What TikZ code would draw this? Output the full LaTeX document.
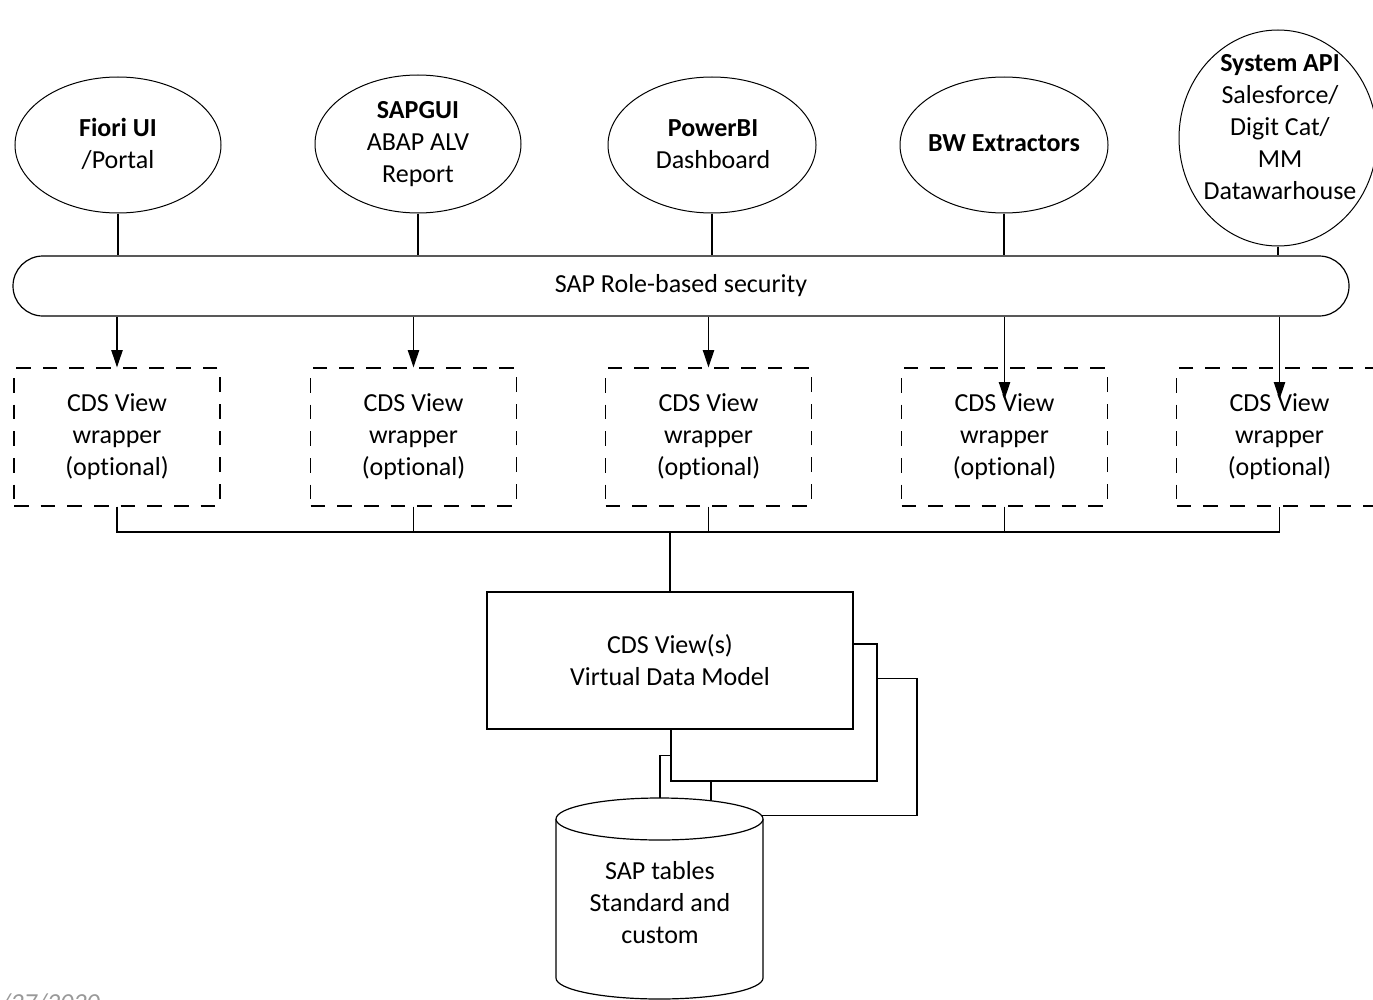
\documentclass[tikz,border=0pt]{standalone}
\usepackage{fontspec}
\setmainfont{Carlito}[Ligatures=NoCommon]
\usetikzlibrary{shapes.geometric,arrows.meta,calc}
\begin{document}
\begin{tikzpicture}[x=0.75pt,y=-0.75pt,
  line width=0.9pt,
  every node/.style={font=\fontsize{19.5}{24}\selectfont},
  oval/.style={draw, ellipse, inner sep=0pt, line width=0.75pt},
  lbl/.style={align=center, inner sep=0pt},
  wrapbox/.style={draw, dash pattern=on 11pt off 9pt, minimum width=154.5pt, minimum height=103.5pt, align=center, inner sep=0pt},
  plainbox/.style={draw, fill=white, minimum width=154.5pt, minimum height=102.75pt, inner sep=0pt, align=center},
  arr/.style={-{Triangle[length=13pt,width=8.5pt]}}]
\clip (0,0) rectangle (1373,999);

% top ellipses
\node[oval, minimum width=154.5pt, minimum height=102pt] (e1) at (118,145) {};
\node[lbl] (t1) at (118,144) {\textbf{Fiori UI}\\/Portal};
\node[oval, minimum width=154.5pt, minimum height=103.5pt] (e2) at (418,144) {};
\node[lbl] (t2) at (418,144) {\textbf{SAPGUI}\\ABAP ALV\\Report};
\node[oval, minimum width=156pt, minimum height=102pt] (e3) at (712,145) {};
\node[lbl] (t3) at (713,144) {\textbf{PowerBI}\\Dashboard};
\node[oval, minimum width=156pt, minimum height=102pt] (e4) at (1004,145) {};
\node[lbl] (t4) at (1004,143) {\textbf{BW Extractors}};
\node[oval, minimum width=148.5pt, minimum height=162pt] (e5) at (1278,138) {};
\node[lbl] (t5) at (1280,127) {\textbf{System API}\\Salesforce/\\Digit Cat/\\MM\\Datawarhouse};

% security bar
\node[draw, rounded corners=22.5pt, minimum width=1002pt, minimum height=45pt, inner sep=0pt] (bar) at (681,286) {SAP Role-based security};

\foreach \i in {1,...,5} {\draw (e\i.south) -- (e\i.south |- bar.north);}

% wrappers
\node[wrapbox] (w1) at (117,437) {CDS View\\wrapper\\(optional)};
\node[wrapbox] (w2) at (413.5,437) {CDS View\\wrapper\\(optional)};
\node[wrapbox] (w3) at (708.5,437) {CDS View\\wrapper\\(optional)};
\node[wrapbox] (w4) at (1004.5,437) {CDS View\\wrapper\\(optional)};
\node[wrapbox] (w5) at (1279.5,437) {CDS View\\wrapper\\(optional)};

\draw[arr] (bar.south -| w1) -- (w1.north);
\draw[arr] (bar.south -| w2) -- (w2.north);
\draw[arr] (bar.south -| w3) -- (w3.north);
\draw[arr] (bar.south -| w4) -- ([yshift=-24pt]w4.north);
\draw[arr] (bar.south -| w5) -- ([yshift=-24pt]w5.north);

% stacked model boxes
\node[plainbox] (back3) at (814,747) {};
\node[plainbox] (back2) at (774,712.5) {};
\node[plainbox, minimum width=274.5pt] (main) at (670,660.5) {CDS View(s)\\Virtual Data Model};

\coordinate (jn) at (670,532);
\draw (w1.south) |- (jn) -| (w5.south);
\draw (w2.south) -- (w2.south |- jn);
\draw (w3.south) -- (w3.south |- jn);
\draw (w4.south) -- (w4.south |- jn);
\draw (jn) -- (main.north);

% cylinder
\filldraw[fill=white] (556,819) -- (556,978) arc[start angle=180,end angle=360,x radius=77.625pt,y radius=15.75pt] -- (763,819);
\draw[fill=white] (659.5,819) ellipse[x radius=77.625pt, y radius=15.75pt];
\coordinate (cyltop) at (660,798);
\node[lbl] (cylt) at (660,903) {SAP tables\\Standard and\\custom};
\draw (cyltop) |- ([yshift=19.5pt]back2.south west);

% date (cut off at the lower edge, as in the reference)
\node[anchor=north west, inner sep=0pt, text=black!40, font=\itshape\fontsize{19.5}{24}\selectfont] (date) at (0,993) {/27/2020};
\end{tikzpicture}
\end{document}
